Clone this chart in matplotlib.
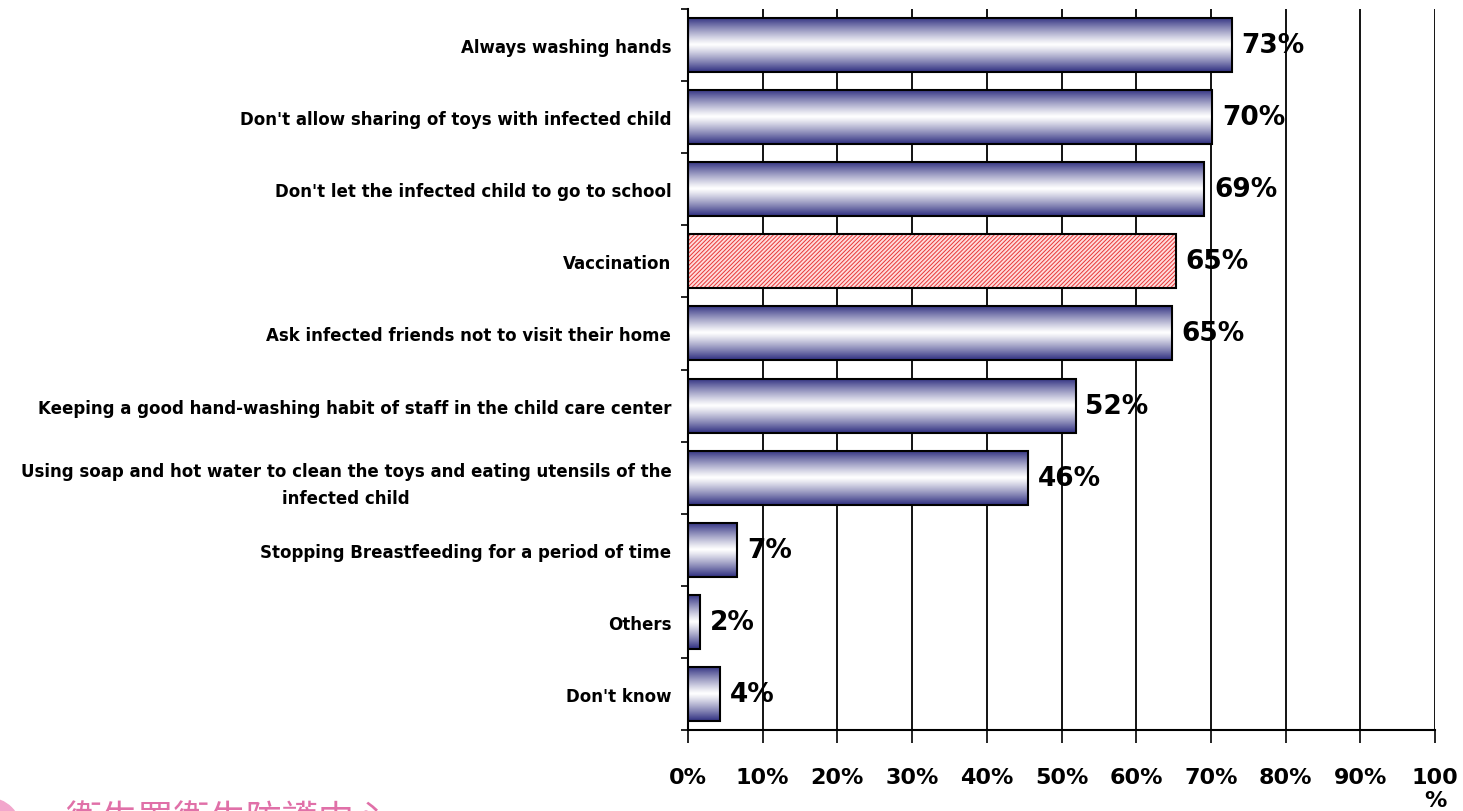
import numpy as np
import matplotlib
matplotlib.use('Agg')
import matplotlib.pyplot as plt
from matplotlib.patches import Rectangle, Circle

categories = ["Always washing hands",
              "Don't allow sharing of toys with infected child",
              "Don't let the infected child to go to school",
              "Vaccination",
              "Ask infected friends not to visit their home",
              "Keeping a good hand-washing habit of staff in the child care center",
              "Using soap and hot water to clean the toys and eating utensils of the\ninfected child",
              "Stopping Breastfeeding for a period of time",
              "Others",
              "Don't know"]
values = [72.8, 70.2, 69.1, 65.3, 64.8, 51.9, 45.5, 6.6, 1.6, 4.3]
value_labels = ["73%", "70%", "69%", "65%", "65%", "52%", "46%", "7%", "2%", "4%"]
xticks = [0, 10, 20, 30, 40, 50, 60, 70, 80, 90, 100]
xtick_labels = ["0%", "10%", "20%", "30%", "40%", "50%", "60%", "70%", "80%", "90%", "100\n%"]
highlight = "Vaccination"

plt.rcParams['font.family'] = ['DejaVu Sans']
plt.rcParams['hatch.linewidth'] = 0.7

fig = plt.figure(figsize=(14.63, 8.12), dpi=100)
ax = fig.add_axes([688/1463, 1-731/812, (1435-688)/1463, (731-10)/812])

# bar gradient navy -> white -> navy
t = np.linspace(0, 1, 256)
w = np.abs(2*t - 1)**1.15
navy = np.array([0.18, 0.18, 0.50])
grad = (1 - w)[:, None] * np.ones(3) + w[:, None] * navy
grad = grad.reshape(-1, 1, 3)
h = 0.75
for i, (cat, v) in enumerate(zip(categories, values)):
    if cat == highlight:
        ax.barh(i, v, height=h, color='#ffdcdc', edgecolor='#e83838', hatch='////////',
                linewidth=0, zorder=3)
        ax.barh(i, v, height=h, fill=False, edgecolor='black', linewidth=1.5, zorder=4)
    else:
        im = ax.imshow(grad, aspect='auto', extent=(0, v, i + h/2, i - h/2),
                       zorder=3, interpolation='bilinear')
        rect = Rectangle((0, i - h/2), v, h, transform=ax.transData)
        im.set_clip_path(rect)
        ax.barh(i, v, height=h, fill=False, edgecolor='black', linewidth=1.5, zorder=4)
    ax.text(v + 1.3, i, value_labels[i], va='center', ha='left', fontsize=19,
            fontweight='bold', zorder=5)

ax.set_xlim(0, 100)
ax.set_ylim(9.5, -0.5)
ax.set_xticks(xticks)
ax.set_xticklabels(xtick_labels, fontsize=16, fontweight='bold', linespacing=1.15)
ax.set_yticks(np.arange(len(categories)))
ax.set_yticklabels(categories, fontsize=12, fontweight='bold', multialignment='center',
                   linespacing=1.7)
ax.tick_params(axis='y', length=0, pad=12)
ax.set_yticks(np.arange(-0.5, len(categories)), minor=True)
ax.tick_params(axis='y', which='minor', length=5, width=1.2, direction='out')
ax.tick_params(axis='x', length=9, width=1.2, direction='out', pad=18)
ax.grid(axis='x', color='black', linewidth=1.3, zorder=1)
ax.set_axisbelow(True)
for s in ['top', 'right']:
    ax.spines[s].set_visible(False)
for s in ['left', 'bottom']:
    ax.spines[s].set_linewidth(1.5)
    ax.spines[s].set_zorder(6)

# partly cut-off pink logo at the bottom-left (cropped in the original too)
fig.patches.append(Circle((-12, -20), 33, transform=None, color='#f2a6cc', zorder=0))
fig.text(65/1463, 1 - 804/812, "衛生署衛生防護中心", fontsize=26, color='#e070a8',
         family=['Noto Sans CJK TC', 'DejaVu Sans'], va='top', ha='left')

fig.savefig('out.png', dpi=100)
